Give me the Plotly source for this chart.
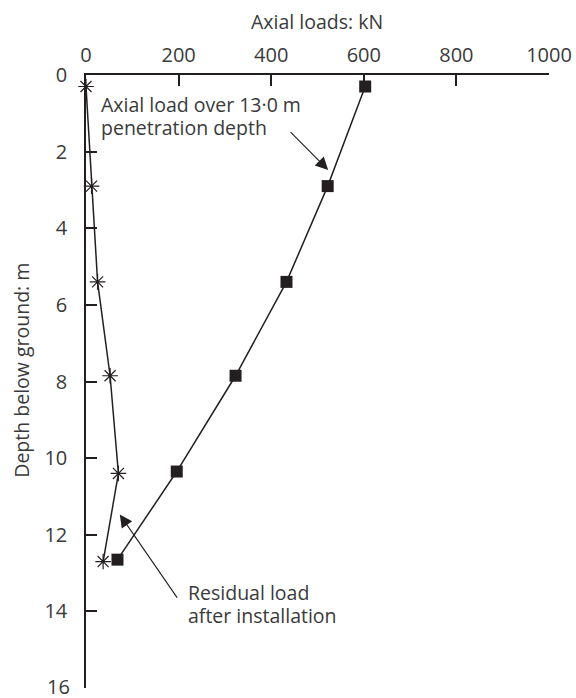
import plotly.graph_objects as go

# Data
depth_axial = [0.3, 2.9, 5.4, 7.85, 10.35, 12.65]
axial_load = [603, 522, 433, 323, 196, 68]

depth_residual = [0.3, 2.9, 5.4, 7.85, 10.4, 12.7]
residual_load = [0, 12, 25, 52, 70, 37]

x_ticks = [0, 200, 400, 600, 800, 1000]
y_ticks = [0, 2, 4, 6, 8, 10, 12, 14, 16]

INK = "#231f20"
TXT = "#3a3a3a"
FONT = "Open Sans"

fig = go.Figure()

fig.add_trace(go.Scatter(
    x=residual_load, y=depth_residual, mode="lines+markers",
    line=dict(color=INK, width=1.5),
    marker=dict(symbol="asterisk-open", size=13, line=dict(color=INK, width=1.2)),
    cliponaxis=False, showlegend=False,
))
fig.add_trace(go.Scatter(
    x=axial_load, y=depth_axial, mode="lines+markers",
    line=dict(color=INK, width=1.5),
    marker=dict(symbol="square", size=12, color=INK, line=dict(width=0)),
    cliponaxis=False, showlegend=False,
))

# last y tick label sits at the very bottom edge; plotly hides it, so draw it as text
y_ticktext = [str(v) for v in y_ticks[:-1]] + [""]

annotations = [
    # axis titles
    dict(text="Axial loads: kN", xref="x", yref="paper", x=498, y=1.087,
         xanchor="center", yanchor="middle",
         showarrow=False, font=dict(size=19.5, color=TXT, family=FONT)),
    dict(text="Depth below ground: m", xref="paper", yref="y", x=-0.141, y=7.7,
         xanchor="center", yanchor="middle",
         textangle=-90, showarrow=False, font=dict(size=19.5, color=TXT, family=FONT)),
    dict(text=str(y_ticks[-1]), xref="paper", yref="y", x=-0.032, y=y_ticks[-1] - 0.05,
         xanchor="right", yanchor="middle", borderpad=0,
         showarrow=False, font=dict(size=20, color=TXT, family=FONT)),
    # labels
    dict(text="Axial load over 13·0 m", x=28, y=0.76, xanchor="left", yanchor="middle",
         showarrow=False, font=dict(size=19.5, color=TXT, family=FONT)),
    dict(text="penetration depth", x=28, y=1.37, xanchor="left", yanchor="middle",
         showarrow=False, font=dict(size=19.5, color=TXT, family=FONT)),
    dict(text="Residual load", x=215, y=13.51, xanchor="left", yanchor="middle",
         showarrow=False, font=dict(size=19.5, color=TXT, family=FONT)),
    dict(text="after installation", x=215, y=14.12, xanchor="left", yanchor="middle",
         showarrow=False, font=dict(size=19.5, color=TXT, family=FONT)),
    # arrows
    dict(text="", x=523, y=2.48, ax=438.6, ay=1.45, axref="x", ayref="y",
         showarrow=True, arrowhead=2, arrowsize=2.3, arrowwidth=1.1, arrowcolor=INK),
    dict(text="", x=73, y=11.47, ax=199, ay=13.68, axref="x", ayref="y",
         showarrow=True, arrowhead=2, arrowsize=2.3, arrowwidth=1.1, arrowcolor=INK),
]

fig.update_layout(
    width=576, height=698,
    margin=dict(l=86, r=27, t=75, b=10, autoexpand=False),
    paper_bgcolor="white", plot_bgcolor="white",
    font=dict(family=FONT, size=20, color=TXT),
    annotations=annotations,
)
fig.update_xaxes(
    side="top", range=[0, 1000], tickvals=x_ticks, automargin=False,
    ticks="inside", ticklen=11, tickwidth=1.5, tickcolor=INK,
    showline=True, linecolor=INK, linewidth=1.5, mirror=False,
    showgrid=False, zeroline=False, ticklabelstandoff=3,
    tickfont=dict(size=20, color=TXT, family=FONT),
)
fig.update_yaxes(
    range=[16, 0], tickvals=y_ticks, ticktext=y_ticktext, automargin=False,
    ticks="inside", ticklen=11, tickwidth=1.5, tickcolor=INK,
    showline=True, linecolor=INK, linewidth=1.5, mirror=False,
    showgrid=False, zeroline=False, ticklabelstandoff=13,
    tickfont=dict(size=20, color=TXT, family=FONT),
)

fig.write_html(
    "out.html",
    config={"displayModeBar": False},
    post_script="document.body.style.margin='0';document.body.style.overflow='hidden';",
)
